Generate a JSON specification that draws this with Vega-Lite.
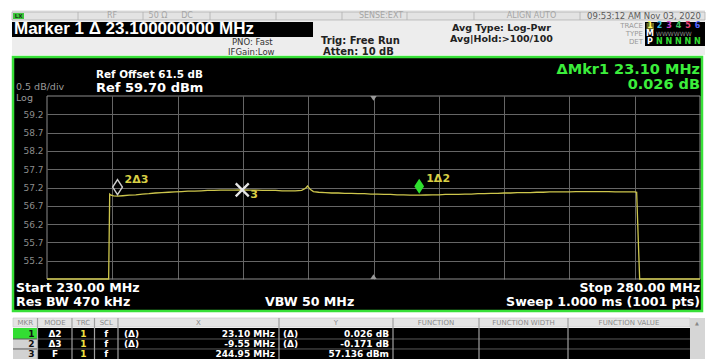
{
  "$schema": "https://vega.github.io/schema/vega-lite/v6.json",
  "width": 653,
  "height": 183,
  "autosize": {"type": "none"},
  "padding": {"left": 47, "top": 96, "right": 10, "bottom": 80},
  "background": "#000000",
  "config": {"view": {"stroke": null}, "font": "DejaVu Sans"},
  "datasets": {
    "trace": [
      {"freq": 230.0, "level": 54.7}, {"freq": 234.72, "level": 54.7}, {"freq": 234.8, "level": 57.02},
      {"freq": 234.9, "level": 56.99}, {"freq": 235.1, "level": 56.97}, {"freq": 235.4, "level": 56.965},
      {"freq": 235.8, "level": 56.975}, {"freq": 236.3, "level": 56.99}, {"freq": 236.8, "level": 57.0},
      {"freq": 237.3, "level": 57.02}, {"freq": 237.8, "level": 57.03}, {"freq": 238.3, "level": 57.05},
      {"freq": 238.8, "level": 57.06}, {"freq": 239.3, "level": 57.07}, {"freq": 239.8, "level": 57.08},
      {"freq": 240.3, "level": 57.09}, {"freq": 240.8, "level": 57.1}, {"freq": 241.3, "level": 57.1},
      {"freq": 241.8, "level": 57.11}, {"freq": 242.3, "level": 57.12}, {"freq": 242.8, "level": 57.12},
      {"freq": 243.3, "level": 57.13}, {"freq": 243.8, "level": 57.13}, {"freq": 244.3, "level": 57.13},
      {"freq": 244.95, "level": 57.136}, {"freq": 245.5, "level": 57.13}, {"freq": 246.0, "level": 57.13},
      {"freq": 246.5, "level": 57.12}, {"freq": 247.0, "level": 57.12}, {"freq": 247.5, "level": 57.12},
      {"freq": 248.0, "level": 57.11}, {"freq": 248.5, "level": 57.11}, {"freq": 249.0, "level": 57.11},
      {"freq": 249.5, "level": 57.12}, {"freq": 249.8, "level": 57.18}, {"freq": 249.95, "level": 57.24},
      {"freq": 250.15, "level": 57.15}, {"freq": 250.4, "level": 57.09}, {"freq": 250.8, "level": 57.07},
      {"freq": 251.3, "level": 57.06}, {"freq": 251.8, "level": 57.05}, {"freq": 252.3, "level": 57.05},
      {"freq": 252.8, "level": 57.04}, {"freq": 253.3, "level": 57.04}, {"freq": 253.8, "level": 57.03},
      {"freq": 254.3, "level": 57.03}, {"freq": 254.8, "level": 57.02}, {"freq": 255.3, "level": 57.02},
      {"freq": 255.8, "level": 57.01}, {"freq": 256.3, "level": 57.01}, {"freq": 256.8, "level": 57.0},
      {"freq": 257.3, "level": 57.0}, {"freq": 257.8, "level": 56.99}, {"freq": 258.5, "level": 56.991},
      {"freq": 259.0, "level": 56.995}, {"freq": 259.5, "level": 57.0}, {"freq": 260.0, "level": 57.0},
      {"freq": 260.5, "level": 57.01}, {"freq": 261.0, "level": 57.01}, {"freq": 261.5, "level": 57.01},
      {"freq": 262.0, "level": 57.02}, {"freq": 262.5, "level": 57.02}, {"freq": 263.0, "level": 57.03},
      {"freq": 263.5, "level": 57.03}, {"freq": 264.0, "level": 57.04}, {"freq": 264.5, "level": 57.04},
      {"freq": 265.0, "level": 57.05}, {"freq": 265.5, "level": 57.05}, {"freq": 266.0, "level": 57.06},
      {"freq": 266.5, "level": 57.06}, {"freq": 267.0, "level": 57.06}, {"freq": 267.5, "level": 57.07},
      {"freq": 268.0, "level": 57.07}, {"freq": 268.5, "level": 57.08}, {"freq": 269.0, "level": 57.08},
      {"freq": 269.5, "level": 57.08}, {"freq": 270.0, "level": 57.08}, {"freq": 270.5, "level": 57.09},
      {"freq": 271.0, "level": 57.09}, {"freq": 271.5, "level": 57.09}, {"freq": 272.0, "level": 57.09},
      {"freq": 272.5, "level": 57.09}, {"freq": 273.0, "level": 57.09}, {"freq": 273.5, "level": 57.08},
      {"freq": 274.0, "level": 57.08}, {"freq": 274.5, "level": 57.08}, {"freq": 275.0, "level": 57.08},
      {"freq": 275.15, "level": 57.07}, {"freq": 275.3, "level": 55.5}, {"freq": 275.38, "level": 54.7},
      {"freq": 280.0, "level": 54.7}
    ],
    "markers": [
      {"mkr": 1, "mode": "Δ2", "trc": "1", "scl": "f", "xfun": "(Δ)", "xtext": "23.10 MHz", "yfun": "(Δ)", "ytext": "0.026 dB", "freq": 258.5, "level": 56.991, "tag": "1Δ2"},
      {"mkr": 2, "mode": "Δ3", "trc": "1", "scl": "f", "xfun": "(Δ)", "xtext": "-9.55 MHz", "yfun": "(Δ)", "ytext": "-0.171 dB", "freq": 235.4, "level": 56.965, "tag": "2Δ3"},
      {"mkr": 3, "mode": "F", "trc": "1", "scl": "f", "xfun": "", "xtext": "244.95 MHz", "yfun": "", "ytext": "57.136 dBm", "freq": 244.95, "level": 57.136, "tag": "3"}
    ]
  },
  "data": {"values": [{}]},
  "layer": [
    {
      "layer": [
        {"mark": {"type": "rect", "fill": "#ffffff"}, "encoding": {"x": {"datum": 226.401}, "x2": {"datum": 280.766}, "y": {"datum": 62.323}, "y2": {"datum": 60.766}}},
        {"mark": {"type": "rect", "fill": "#ededed"}, "encoding": {"x": {"datum": 227.32}, "x2": {"datum": 280.383}, "y": {"datum": 62.05}, "y2": {"datum": 60.82}}},
        {"mark": {"type": "rect", "fill": "#ffffff"}, "encoding": {"x": {"datum": 226.401}, "x2": {"datum": 227.397}, "y": {"datum": 60.766}, "y2": {"datum": 52.514}}},
        {"mark": {"type": "rect", "fill": "#ffffff"}, "encoding": {"x": {"datum": 280.153}, "x2": {"datum": 280.766}, "y": {"datum": 60.766}, "y2": {"datum": 52.514}}},
        {"mark": {"type": "rect", "fill": "#ffffff"}, "encoding": {"x": {"datum": 226.401}, "x2": {"datum": 280.766}, "y": {"datum": 53.826}, "y2": {"datum": 52.514}}},

        {"mark": {"type": "rect", "fill": "#e3e3e3", "stroke": "#b0b0b0", "strokeWidth": 0.8}, "encoding": {"x": {"datum": 227.32}, "x2": {"datum": 280.383}, "y": {"datum": 61.995}, "y2": {"datum": 61.777}}},
        {"mark": {"type": "rule", "color": "#b0b0b0", "strokeWidth": 0.8}, "encoding": {"x": {"datum": 232.374}, "y": {"datum": 61.995}, "y2": {"datum": 61.777}}},
        {"mark": {"type": "rule", "color": "#b0b0b0", "strokeWidth": 0.8}, "encoding": {"x": {"datum": 237.351}, "y": {"datum": 61.995}, "y2": {"datum": 61.777}}},
        {"mark": {"type": "rule", "color": "#b0b0b0", "strokeWidth": 0.8}, "encoding": {"x": {"datum": 242.481}, "y": {"datum": 61.995}, "y2": {"datum": 61.777}}},
        {"mark": {"type": "rule", "color": "#b0b0b0", "strokeWidth": 0.8}, "encoding": {"x": {"datum": 247.535}, "y": {"datum": 61.995}, "y2": {"datum": 61.777}}},
        {"mark": {"type": "rule", "color": "#b0b0b0", "strokeWidth": 0.8}, "encoding": {"x": {"datum": 252.588}, "y": {"datum": 61.995}, "y2": {"datum": 61.777}}},
        {"mark": {"type": "rule", "color": "#b0b0b0", "strokeWidth": 0.8}, "encoding": {"x": {"datum": 257.565}, "y": {"datum": 61.995}, "y2": {"datum": 61.777}}},
        {"mark": {"type": "rule", "color": "#b0b0b0", "strokeWidth": 0.8}, "encoding": {"x": {"datum": 262.695}, "y": {"datum": 61.995}, "y2": {"datum": 61.777}}},
        {"mark": {"type": "rule", "color": "#b0b0b0", "strokeWidth": 0.8}, "encoding": {"x": {"datum": 270.812}, "y": {"datum": 61.995}, "y2": {"datum": 61.777}}},
        {"mark": {"type": "rect", "fill": "#3cc83c"}, "encoding": {"x": {"datum": 227.397}, "x2": {"datum": 228.239}, "y": {"datum": 61.968}, "y2": {"datum": 61.804}}},
        {"mark": {"type": "text", "text": "LX", "fontSize": 5.5, "fontWeight": "bold", "color": "#1a3a1a", "baseline": "middle"}, "encoding": {"x": {"datum": 227.818}, "y": {"datum": 61.886}}},
        {"mark": {"type": "text", "text": "RF", "fontSize": 8, "color": "#a5a5a5", "baseline": "middle"}, "encoding": {"x": {"datum": 234.977}, "y": {"datum": 61.886}}},
        {"mark": {"type": "text", "text": "50 Ω", "fontSize": 8, "color": "#a5a5a5", "baseline": "middle"}, "encoding": {"x": {"datum": 238.499}, "y": {"datum": 61.886}}},
        {"mark": {"type": "text", "text": "DC", "fontSize": 8, "color": "#a5a5a5", "baseline": "middle"}, "encoding": {"x": {"datum": 240.72}, "y": {"datum": 61.886}}},
        {"mark": {"type": "text", "text": "SENSE:EXT", "fontSize": 8, "color": "#a5a5a5", "baseline": "middle"}, "encoding": {"x": {"datum": 255.574}, "y": {"datum": 61.886}}},
        {"mark": {"type": "text", "text": "ALIGN AUTO", "fontSize": 8, "color": "#a5a5a5", "baseline": "middle"}, "encoding": {"x": {"datum": 267.098}, "y": {"datum": 61.886}}},
        {"mark": {"type": "text", "text": "09:53:12 AM Nov 03, 2020", "fontSize": 8.5, "color": "#5a5a5a", "baseline": "middle"}, "encoding": {"x": {"datum": 275.712}, "y": {"datum": 61.886}}},

        {"mark": {"type": "rect", "fill": "#000000"}, "encoding": {"x": {"datum": 227.32}, "x2": {"datum": 250.368}, "y": {"datum": 61.722}, "y2": {"datum": 61.312}}},
        {"mark": {"type": "text", "text": "Marker 1 Δ 23.100000000 MHz", "font": "Liberation Sans", "fontSize": 17, "fontWeight": "bold", "color": "#ffffff", "align": "left", "baseline": "middle"}, "encoding": {"x": {"datum": 227.473}, "y": {"datum": 61.517}}},
        {"mark": {"type": "text", "text": "PNO: Fast", "fontSize": 8.5, "color": "#333333", "align": "left", "baseline": "middle"}, "encoding": {"x": {"datum": 244.165}, "y": {"datum": 61.175}}},
        {"mark": {"type": "text", "text": "IFGain:Low", "fontSize": 8.5, "color": "#333333", "align": "left", "baseline": "middle"}, "encoding": {"x": {"datum": 243.859}, "y": {"datum": 60.902}}},
        {"mark": {"type": "text", "text": "Trig: Free Run", "fontSize": 10, "fontWeight": "bold", "color": "#222222", "align": "left", "baseline": "middle"}, "encoding": {"x": {"datum": 250.98}, "y": {"datum": 61.203}}},
        {"mark": {"type": "text", "text": "Atten: 10 dB", "fontSize": 10, "fontWeight": "bold", "color": "#222222", "align": "left", "baseline": "middle"}, "encoding": {"x": {"datum": 251.133}, "y": {"datum": 60.902}}},
        {"mark": {"type": "text", "text": "Avg Type: Log-Pwr", "fontSize": 9.5, "fontWeight": "bold", "color": "#222222", "align": "left", "baseline": "middle"}, "encoding": {"x": {"datum": 261.011}, "y": {"datum": 61.558}}},
        {"mark": {"type": "text", "text": "Avg|Hold:>100/100", "fontSize": 9.5, "fontWeight": "bold", "color": "#222222", "align": "left", "baseline": "middle"}, "encoding": {"x": {"datum": 260.858}, "y": {"datum": 61.271}}},

        {"mark": {"type": "text", "text": "TRACE", "fontSize": 7, "color": "#999999", "align": "right", "baseline": "middle"}, "encoding": {"x": {"datum": 275.636}, "y": {"datum": 61.599}}},
        {"mark": {"type": "text", "text": "TYPE", "fontSize": 7, "color": "#999999", "align": "right", "baseline": "middle"}, "encoding": {"x": {"datum": 275.636}, "y": {"datum": 61.394}}},
        {"mark": {"type": "text", "text": "DET", "fontSize": 7, "color": "#999999", "align": "right", "baseline": "middle"}, "encoding": {"x": {"datum": 275.636}, "y": {"datum": 61.189}}},
        {"mark": {"type": "rect", "fill": "#000000"}, "encoding": {"x": {"datum": 275.789}, "x2": {"datum": 280.383}, "y": {"datum": 61.722}, "y2": {"datum": 61.066}}},
        {"mark": {"type": "rect", "fill": "#6a6a22"}, "encoding": {"x": {"datum": 275.904}, "x2": {"datum": 276.478}, "y": {"datum": 61.695}, "y2": {"datum": 61.503}}},
        {"mark": {"type": "text", "text": "1", "fontSize": 8, "fontWeight": "bold", "color": "#ffff66", "baseline": "middle"}, "encoding": {"x": {"datum": 276.172}, "y": {"datum": 61.599}}},
        {"mark": {"type": "text", "text": "2", "fontSize": 8, "fontWeight": "bold", "color": "#33bbdd", "baseline": "middle"}, "encoding": {"x": {"datum": 276.899}, "y": {"datum": 61.599}}},
        {"mark": {"type": "text", "text": "3", "fontSize": 8, "fontWeight": "bold", "color": "#cc44cc", "baseline": "middle"}, "encoding": {"x": {"datum": 277.626}, "y": {"datum": 61.599}}},
        {"mark": {"type": "text", "text": "4", "fontSize": 8, "fontWeight": "bold", "color": "#44cc66", "baseline": "middle"}, "encoding": {"x": {"datum": 278.354}, "y": {"datum": 61.599}}},
        {"mark": {"type": "text", "text": "5", "fontSize": 8, "fontWeight": "bold", "color": "#ee4477", "baseline": "middle"}, "encoding": {"x": {"datum": 279.081}, "y": {"datum": 61.599}}},
        {"mark": {"type": "text", "text": "6", "fontSize": 8, "fontWeight": "bold", "color": "#5566ff", "baseline": "middle"}, "encoding": {"x": {"datum": 279.809}, "y": {"datum": 61.599}}},
        {"mark": {"type": "text", "text": "M", "fontSize": 8, "fontWeight": "bold", "color": "#ffffff", "baseline": "middle"}, "encoding": {"x": {"datum": 276.172}, "y": {"datum": 61.394}}},
        {"mark": {"type": "text", "text": "WWWWWW", "fontSize": 6, "color": "#8a8a8a", "align": "left", "baseline": "middle"}, "encoding": {"x": {"datum": 276.631}, "y": {"datum": 61.394}}},
        {"mark": {"type": "text", "text": "P", "fontSize": 8, "fontWeight": "bold", "color": "#ffffff", "baseline": "middle"}, "encoding": {"x": {"datum": 276.172}, "y": {"datum": 61.189}}},
        {"mark": {"type": "text", "text": "N N N N N", "fontSize": 8, "fontWeight": "bold", "color": "#33dd33", "align": "left", "baseline": "middle"}, "encoding": {"x": {"datum": 276.631}, "y": {"datum": 61.189}}},

        {"mark": {"type": "text", "text": "Ref Offset 61.5 dB", "fontSize": 10.4, "fontWeight": "bold", "color": "#ffffff", "align": "left", "baseline": "middle"}, "encoding": {"x": {"datum": 233.752}, "y": {"datum": 60.274}}},
        {"mark": {"type": "text", "text": "Ref 59.70 dBm", "fontSize": 13, "fontWeight": "bold", "color": "#ffffff", "align": "left", "baseline": "middle"}, "encoding": {"x": {"datum": 233.752}, "y": {"datum": 59.932}}},
        {"mark": {"type": "text", "text": "0.5 dB/div", "fontSize": 9.5, "color": "#9a9a9a", "align": "left", "baseline": "middle"}, "encoding": {"x": {"datum": 227.626}, "y": {"datum": 59.959}}},
        {"mark": {"type": "text", "text": "Log", "fontSize": 9.5, "color": "#9a9a9a", "align": "left", "baseline": "middle"}, "encoding": {"x": {"datum": 227.626}, "y": {"datum": 59.659}}},
        {"mark": {"type": "text", "text": "ΔMkr1 23.10 MHz", "fontSize": 14.5, "fontWeight": "bold", "color": "#3cee3c", "align": "right", "baseline": "middle"}, "encoding": {"x": {"datum": 280.0}, "y": {"datum": 60.424}}},
        {"mark": {"type": "text", "text": "0.026 dB", "fontSize": 14.5, "fontWeight": "bold", "color": "#3cee3c", "align": "right", "baseline": "middle"}, "encoding": {"x": {"datum": 280.0}, "y": {"datum": 60.014}}},
        {"mark": {"type": "text", "text": "Start 230.00 MHz", "fontSize": 12.6, "fontWeight": "bold", "color": "#ffffff", "align": "left", "baseline": "middle"}, "encoding": {"x": {"datum": 227.626}, "y": {"datum": 54.454}}},
        {"mark": {"type": "text", "text": "Res BW 470 kHz", "fontSize": 12.6, "fontWeight": "bold", "color": "#ffffff", "align": "left", "baseline": "middle"}, "encoding": {"x": {"datum": 227.626}, "y": {"datum": 54.072}}},
        {"mark": {"type": "text", "text": "VBW 50 MHz", "fontSize": 12.6, "fontWeight": "bold", "color": "#ffffff", "align": "left", "baseline": "middle"}, "encoding": {"x": {"datum": 246.692}, "y": {"datum": 54.072}}},
        {"mark": {"type": "text", "text": "Stop 280.00 MHz", "fontSize": 12.6, "fontWeight": "bold", "color": "#ffffff", "align": "right", "baseline": "middle"}, "encoding": {"x": {"datum": 280.0}, "y": {"datum": 54.454}}},
        {"mark": {"type": "text", "text": "Sweep  1.000 ms (1001 pts)", "fontSize": 12.6, "fontWeight": "bold", "color": "#ffffff", "align": "right", "baseline": "middle"}, "encoding": {"x": {"datum": 280.0}, "y": {"datum": 54.072}}},

        {"mark": {"type": "rect", "fillOpacity": 0, "stroke": "#8c8c8c", "strokeWidth": 1}, "encoding": {"x": {"datum": 230}, "x2": {"datum": 280}, "y": {"datum": 59.7}, "y2": {"datum": 54.7}}},
        {"mark": {"type": "point", "shape": "M-0.8,0L0.8,0L0,1.2Z", "size": 64, "filled": true, "color": "#9a9a9a", "opacity": 1}, "encoding": {"x": {"datum": 255}, "y": {"datum": 59.7}}},
        {"mark": {"type": "point", "shape": "M-0.8,0L0.8,0L0,-1.2Z", "size": 64, "filled": true, "color": "#9a9a9a", "opacity": 1}, "encoding": {"x": {"datum": 255}, "y": {"datum": 54.7}}},

        {
          "data": {"name": "trace"},
          "mark": {"type": "line", "color": "#cdc64c", "strokeWidth": 1.3},
          "encoding": {
            "x": {
              "field": "freq", "type": "quantitative",
              "scale": {"domain": [230, 280], "nice": false, "zero": false},
              "axis": {"values": [235, 240, 245, 250, 255, 260, 265, 270, 275], "tickCount": 20, "title": null, "labels": false, "ticks": false, "domain": false, "grid": true, "gridColor": "#666666", "gridWidth": 1}
            },
            "y": {
              "field": "level", "type": "quantitative",
              "scale": {"domain": [54.7, 59.7], "nice": false, "zero": false},
              "axis": {"values": [55.2, 55.7, 56.2, 56.7, 57.2, 57.7, 58.2, 58.7, 59.2], "tickCount": 20, "labelOverlap": false, "format": ".1f", "title": null, "domain": false, "ticks": false, "grid": true, "gridColor": "#666666", "gridWidth": 1, "labelColor": "#8c8c8c", "labelFont": "DejaVu Sans", "labelFontSize": 9, "labelPadding": 4}
            }
          }
        },

        {
          "data": {"name": "markers"},
          "transform": [{"filter": "datum.mkr == 1"}],
          "mark": {"type": "point", "shape": "M0,-2.2L0.65,-1.2L0,-0.2L-0.65,-1.2Z", "size": 225, "filled": true, "color": "#2ee02e", "opacity": 1},
          "encoding": {"x": {"field": "freq", "type": "quantitative"}, "y": {"field": "level", "type": "quantitative"}}
        },
        {
          "data": {"name": "markers"},
          "transform": [{"filter": "datum.mkr == 2"}],
          "mark": {"type": "point", "shape": "M0,-2.2L0.65,-1.2L0,-0.2L-0.65,-1.2Z", "size": 225, "filled": false, "color": "#d0d0d0", "strokeWidth": 1.4, "opacity": 1},
          "encoding": {"x": {"field": "freq", "type": "quantitative"}, "y": {"field": "level", "type": "quantitative"}}
        },
        {
          "data": {"name": "markers"},
          "transform": [{"filter": "datum.mkr == 3"}],
          "mark": {"type": "point", "shape": "M-1,-1L1,1M1,-1L-1,1", "size": 170, "filled": false, "color": "#e6e6e6", "strokeWidth": 2.3, "opacity": 1},
          "encoding": {"x": {"field": "freq", "type": "quantitative"}, "y": {"field": "level", "type": "quantitative"}}
        },
        {
          "data": {"name": "markers"},
          "transform": [{"filter": "datum.mkr != 3"}],
          "mark": {"type": "text", "align": "left", "baseline": "middle", "dx": 7, "dy": -16, "fontSize": 11, "fontWeight": "bold", "color": "#d8cf45"},
          "encoding": {"x": {"field": "freq", "type": "quantitative"}, "y": {"field": "level", "type": "quantitative"}, "text": {"field": "tag"}}
        },
        {
          "data": {"name": "markers"},
          "transform": [{"filter": "datum.mkr == 3"}],
          "mark": {"type": "text", "align": "left", "baseline": "middle", "dx": 8, "dy": 5, "fontSize": 11, "fontWeight": "bold", "color": "#d8cf45"},
          "encoding": {"x": {"field": "freq", "type": "quantitative"}, "y": {"field": "level", "type": "quantitative"}, "text": {"field": "tag"}}
        },

        {"mark": {"type": "rect", "fillOpacity": 0, "stroke": "#38e038", "strokeWidth": 2.5}, "encoding": {"x": {"datum": 227.397}, "x2": {"datum": 280.153}, "y": {"datum": 60.766}, "y2": {"datum": 53.826}}},

        {"mark": {"type": "rect", "fill": "#e4e4e4", "stroke": "#c4c4c4", "strokeWidth": 0.6}, "encoding": {"x": {"datum": 227.397}, "x2": {"datum": 279.234}, "y": {"datum": 53.634}, "y2": {"datum": 53.389}}},
        {"mark": {"type": "rect", "fill": "#d6d6d6"}, "encoding": {"x": {"datum": 279.234}, "x2": {"datum": 280.383}, "y": {"datum": 53.634}, "y2": {"datum": 52.514}}},
        {"mark": {"type": "text", "text": "▲", "fontSize": 5, "color": "#888888", "baseline": "middle"}, "encoding": {"x": {"datum": 279.77}, "y": {"datum": 53.511}}},
        {"mark": {"type": "rect", "fill": "#000000"}, "encoding": {"x": {"datum": 229.311}, "x2": {"datum": 279.234}, "y": {"datum": 53.361}, "y2": {"datum": 52.514}}},
        {"mark": {"type": "rect", "fill": "#33dd33"}, "encoding": {"x": {"datum": 227.397}, "x2": {"datum": 229.273}, "y": {"datum": 53.361}, "y2": {"datum": 53.061}}},
        {"mark": {"type": "rect", "fill": "#d2d2d2"}, "encoding": {"x": {"datum": 227.397}, "x2": {"datum": 229.273}, "y": {"datum": 53.061}, "y2": {"datum": 52.514}}},
        {"mark": {"type": "rule", "color": "#5a5a5a", "strokeWidth": 1}, "encoding": {"x": {"datum": 227.397}, "x2": {"datum": 279.234}, "y": {"datum": 53.061}}},
        {"mark": {"type": "rule", "color": "#5a5a5a", "strokeWidth": 1}, "encoding": {"x": {"datum": 227.397}, "x2": {"datum": 279.234}, "y": {"datum": 52.788}}},
        {"mark": {"type": "rule", "color": "#a0a0a0", "strokeWidth": 1.2}, "encoding": {"x": {"datum": 229.273}, "y": {"datum": 53.634}, "y2": {"datum": 52.514}}},
        {"mark": {"type": "rule", "color": "#a0a0a0", "strokeWidth": 1.2}, "encoding": {"x": {"datum": 231.914}, "y": {"datum": 53.634}, "y2": {"datum": 52.514}}},
        {"mark": {"type": "rule", "color": "#a0a0a0", "strokeWidth": 1.2}, "encoding": {"x": {"datum": 233.637}, "y": {"datum": 53.634}, "y2": {"datum": 52.514}}},
        {"mark": {"type": "rule", "color": "#a0a0a0", "strokeWidth": 1.2}, "encoding": {"x": {"datum": 235.436}, "y": {"datum": 53.634}, "y2": {"datum": 52.514}}},
        {"mark": {"type": "rule", "color": "#a0a0a0", "strokeWidth": 1.2}, "encoding": {"x": {"datum": 247.764}, "y": {"datum": 53.634}, "y2": {"datum": 52.514}}},
        {"mark": {"type": "rule", "color": "#a0a0a0", "strokeWidth": 1.2}, "encoding": {"x": {"datum": 256.493}, "y": {"datum": 53.634}, "y2": {"datum": 52.514}}},
        {"mark": {"type": "rule", "color": "#a0a0a0", "strokeWidth": 1.2}, "encoding": {"x": {"datum": 263.078}, "y": {"datum": 53.634}, "y2": {"datum": 52.514}}},
        {"mark": {"type": "rule", "color": "#a0a0a0", "strokeWidth": 1.2}, "encoding": {"x": {"datum": 269.893}, "y": {"datum": 53.634}, "y2": {"datum": 52.514}}},
        {"mark": {"type": "text", "text": "MKR", "fontSize": 7, "color": "#8a8a8a", "baseline": "middle"}, "encoding": {"x": {"datum": 228.335}, "y": {"datum": 53.511}}},
        {"mark": {"type": "text", "text": "MODE", "fontSize": 7, "color": "#8a8a8a", "baseline": "middle"}, "encoding": {"x": {"datum": 230.613}, "y": {"datum": 53.511}}},
        {"mark": {"type": "text", "text": "TRC", "fontSize": 7, "color": "#8a8a8a", "baseline": "middle"}, "encoding": {"x": {"datum": 232.776}, "y": {"datum": 53.511}}},
        {"mark": {"type": "text", "text": "SCL", "fontSize": 7, "color": "#8a8a8a", "baseline": "middle"}, "encoding": {"x": {"datum": 234.537}, "y": {"datum": 53.511}}},
        {"mark": {"type": "text", "text": "X", "fontSize": 7, "color": "#8a8a8a", "baseline": "middle"}, "encoding": {"x": {"datum": 241.6}, "y": {"datum": 53.511}}},
        {"mark": {"type": "text", "text": "Y", "fontSize": 7, "color": "#8a8a8a", "baseline": "middle"}, "encoding": {"x": {"datum": 252.129}, "y": {"datum": 53.511}}},
        {"mark": {"type": "text", "text": "FUNCTION", "fontSize": 7, "color": "#8a8a8a", "baseline": "middle"}, "encoding": {"x": {"datum": 259.786}, "y": {"datum": 53.511}}},
        {"mark": {"type": "text", "text": "FUNCTION WIDTH", "fontSize": 7, "color": "#8a8a8a", "baseline": "middle"}, "encoding": {"x": {"datum": 266.486}, "y": {"datum": 53.511}}},
        {"mark": {"type": "text", "text": "FUNCTION VALUE", "fontSize": 7, "color": "#8a8a8a", "baseline": "middle"}, "encoding": {"x": {"datum": 274.564}, "y": {"datum": 53.511}}}
      ]
    },
    {
      "data": {"name": "markers"},
      "encoding": {
        "y": {"field": "mkr", "type": "quantitative", "scale": {"domain": [-22.8, -4.5], "reverse": true, "nice": false, "zero": false}, "axis": null}
      },
      "layer": [
        {"mark": {"type": "text", "baseline": "middle", "fontSize": 9, "fontWeight": "bold", "color": "#111111"}, "encoding": {"x": {"datum": 228.813}, "text": {"field": "mkr"}}},
        {"mark": {"type": "text", "baseline": "middle", "fontSize": 9, "fontWeight": "bold", "color": "#ffffff"}, "encoding": {"x": {"datum": 230.613}, "text": {"field": "mode"}}},
        {"mark": {"type": "text", "baseline": "middle", "fontSize": 9, "fontWeight": "bold", "color": "#f0e040"}, "encoding": {"x": {"datum": 232.776}, "text": {"field": "trc"}}},
        {"mark": {"type": "text", "baseline": "middle", "fontSize": 9, "fontWeight": "bold", "color": "#ffffff"}, "encoding": {"x": {"datum": 234.537}, "text": {"field": "scl"}}},
        {"mark": {"type": "text", "baseline": "middle", "align": "left", "fontSize": 9, "fontWeight": "bold", "color": "#ffffff"}, "encoding": {"x": {"datum": 235.896}, "text": {"field": "xfun"}}},
        {"mark": {"type": "text", "baseline": "middle", "align": "right", "fontSize": 9, "fontWeight": "bold", "color": "#ffffff"}, "encoding": {"x": {"datum": 247.458}, "text": {"field": "xtext"}}},
        {"mark": {"type": "text", "baseline": "middle", "align": "left", "fontSize": 9, "fontWeight": "bold", "color": "#ffffff"}, "encoding": {"x": {"datum": 248.07}, "text": {"field": "yfun"}}},
        {"mark": {"type": "text", "baseline": "middle", "align": "right", "fontSize": 9, "fontWeight": "bold", "color": "#ffffff"}, "encoding": {"x": {"datum": 256.187}, "text": {"field": "ytext"}}}
      ]
    }
  ],
  "resolve": {"scale": {"y": "independent"}}
}
